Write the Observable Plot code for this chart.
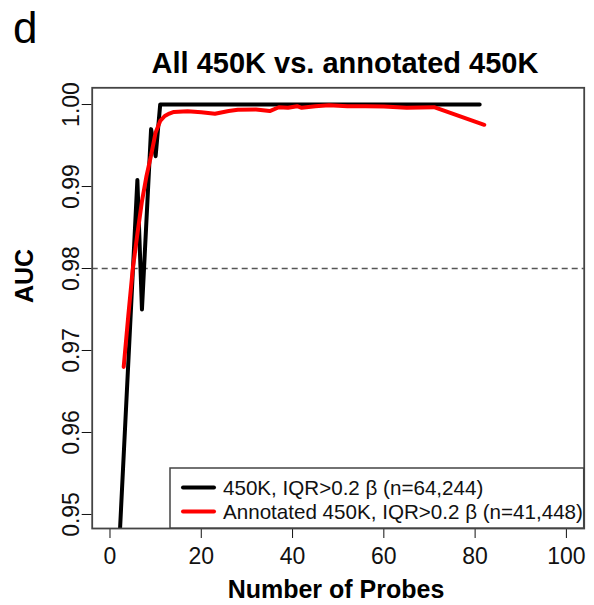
<!DOCTYPE html>
<html><head><meta charset="utf-8">
<script src="https://cdn.jsdelivr.net/npm/d3@7"></script>
<script src="https://cdn.jsdelivr.net/npm/@observablehq/plot@0.6"></script>
<style>body{margin:0;background:#fff} #chart{width:594px;height:605px}</style>
</head><body><div id="chart"></div>
<script>
// Data
const blackX = [2, 6, 7, 9, 10, 11, 81];
const blackY = [0.946, 0.9908, 0.975, 0.9970, 0.9937, 1.0, 1.0];
const redX = [3, 4, 5, 6, 7, 8, 9, 10, 11, 12, 13, 14, 17, 20, 23, 26, 28, 32, 35, 37, 39, 41, 42, 45, 48, 52, 56, 60, 65, 68, 71, 82];
const redY = [0.968, 0.9742, 0.980, 0.9842, 0.9882, 0.9913, 0.9938, 0.9966, 0.9980, 0.99860, 0.9989, 0.9991, 0.99918, 0.99906, 0.99888, 0.9992, 0.99935, 0.9994, 0.9992, 0.99967, 0.9996, 0.9998, 0.9996, 0.9998, 0.9999, 0.9998, 0.9998, 0.99975, 0.9996, 0.99965, 0.99967, 0.99753];
const xTicks = [0, 20, 40, 60, 80, 100];
const yTicks = [0.95, 0.96, 0.97, 0.98, 0.99, 1.00];
const threshold = [0.98];
const seriesNames = ["450K, IQR>0.2 \u03b2 (n=64,244)", "Annotated 450K, IQR>0.2 \u03b2 (n=41,448)"];
const seriesColors = ["#000000", "#ff0000"];
const titleText = "All 450K vs. annotated 450K";
const panelLetter = "d";
const xLabel = "Number of Probes";
const yLabel = "AUC";

const blackData = blackX.map((x, i) => ({x, y: blackY[i]}));
const redData = redX.map((x, i) => ({x, y: redY[i]}));

const font = "'Liberation Sans', Arial, Helvetica, sans-serif";
const plot = Plot.plot({
  width: 594, height: 605,
  marginLeft: 91.7, marginRight: 10.3, marginTop: 87.3, marginBottom: 77,
  style: {fontFamily: font, fontSize: "23px", color: "#111", background: "#fff", overflow: "visible"},
  x: {domain: [-3.9, 103.9], ticks: xTicks, label: null, tickSize: 10, tickPadding: 9},
  y: {domain: [0.94829, 1.00204], ticks: yTicks, tickFormat: d3.format(".2f"), label: null, tickSize: 10, tickPadding: 3, tickRotate: -90},
  marks: [
    Plot.ruleY(threshold, {stroke: "#555", strokeWidth: 1.5, strokeDasharray: "6,4"}),
    Plot.line(blackData, {x: "x", y: "y", stroke: seriesColors[0], strokeWidth: 4, clip: true}),
    Plot.line(redData, {x: "x", y: "y", stroke: seriesColors[1], strokeWidth: 4, clip: true}),
    Plot.frame({stroke: "#444", strokeWidth: 1.8})
  ]
});
document.getElementById("chart").appendChild(plot);

const svg = d3.select(plot);
const addText = (t, attrs) => {
  const el = svg.append("text").attr("font-family", font).attr("fill", "#000").attr("text-anchor", "start").text(t);
  Object.entries(attrs).forEach(([k, v]) => el.attr(k, v));
  return el;
};
addText(panelLetter, {x: 13, y: 43, "font-size": 44});
addText(titleText, {x: 345, y: 73, "text-anchor": "middle", "font-size": 29, "font-weight": "bold"});
addText(yLabel, {transform: "translate(33,276) rotate(-90)", "text-anchor": "middle", "font-size": 25, "font-weight": "bold"});
addText(xLabel, {x: 336, y: 598, "text-anchor": "middle", "font-size": 25, "font-weight": "bold"});

// legend (bottom-right, sharing the frame's right and bottom edges)
svg.append("rect").attr("x", 170).attr("y", 468).attr("width", 413.7).attr("height", 60).attr("fill", "#fff").attr("stroke", "#444").attr("stroke-width", 1.5);
seriesNames.forEach((name, i) => {
  const yy = 487.5 + i * 24;
  svg.append("line").attr("x1", 183).attr("x2", 214).attr("y1", yy).attr("y2", yy).attr("stroke", seriesColors[i]).attr("stroke-width", 4).attr("stroke-linecap", "round");
  addText(name, {x: 223, y: yy + 7.5, "font-size": 20.6, fill: "#111"});
});
</script>
</body></html>
